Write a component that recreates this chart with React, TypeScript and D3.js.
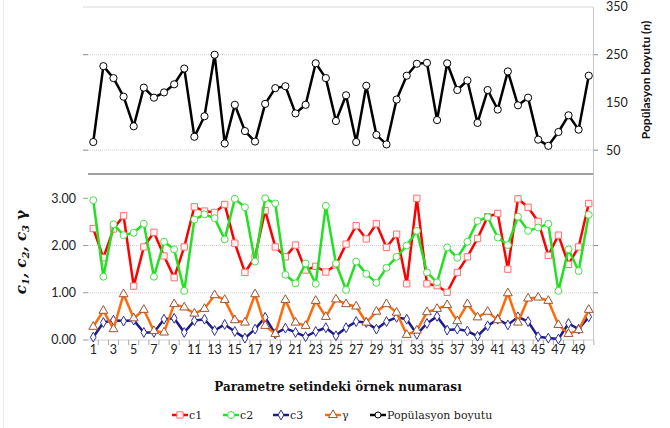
import React, { useEffect, useRef } from 'react';
import * as d3 from 'd3';

const samples = [1,2,3,4,5,6,7,8,9,10,11,12,13,14,15,16,17,18,19,20,21,22,23,24,25,26,27,28,29,30,31,32,33,34,35,36,37,38,39,40,41,42,43,44,45,46,47,48,49,50];

const popSize = [67,226,201,162,100,181,160,171,188,221, 78,121,250,64,145,90,68,147,180,184, 127,145,232,201,111,165,67,185,82,62, 156,206,231,233,113,232,176,196,107,176, 135,215,144,160,72,59,88,123,93,206];

const c1 = [2.36,1.74,2.35,2.63,1.14,1.97,2.28,1.78,1.32,1.97, 2.82,2.73,2.70,2.87,2.05,1.43,1.76,2.74,1.97,1.76, 2.01,1.48,1.56,1.44,1.59,2.03,2.42,2.14,2.46,1.96, 2.24,1.19,3.00,1.19,1.15,1.01,1.43,1.76,2.15,2.61, 2.68,1.50,2.99,2.81,2.51,1.79,2.22,1.60,1.97,2.89];
const c2 = [2.96,1.34,2.45,2.22,2.27,2.46,1.34,2.08,1.92,1.04, 2.55,2.66,2.58,2.13,2.99,2.81,1.66,3.00,2.89,1.38, 1.20,1.62,1.19,2.84,1.62,1.06,1.66,1.40,1.21,1.53, 1.76,2.00,2.31,1.43,1.22,1.96,1.74,2.08,2.52,2.60, 2.17,2.01,2.61,2.31,2.38,2.46,1.04,1.92,1.46,2.65];
const c3 = [0.06,0.37,0.42,0.40,0.42,0.16,0.16,0.44,0.46,0.16, 0.41,0.44,0.20,0.33,0.18,0.04,0.23,0.48,0.13,0.25, 0.16,0.07,0.18,0.26,0.09,0.26,0.39,0.37,0.23,0.39, 0.48,0.44,0.12,0.35,0.50,0.21,0.23,0.19,0.08,0.30, 0.44,0.32,0.49,0.39,0.07,0.04,0.02,0.35,0.23,0.49];
const gamma = [0.28,0.62,0.23,0.97,0.46,0.64,0.19,0.16,0.76,0.69, 0.56,0.66,0.95,0.85,0.42,0.37,0.97,0.30,0.13,0.85, 0.37,0.30,0.83,0.49,0.86,0.76,0.71,0.37,0.60,0.76, 0.58,0.11,0.20,0.59,0.66,0.74,0.40,0.76,0.48,0.60, 0.42,0.99,0.37,0.88,0.90,0.83,0.32,0.13,0.21,0.64];

const leftTicks = [0, 1, 2, 3];
const rightTicks = [50, 150, 250, 350];
const leftGrid = [1, 2];
const rightGrid = [250, 50];

type Series = { name: string; values: number[]; line: string; stroke: string; fill: string; symbol: d3.SymbolType; size: number };

const series: Series[] = [
  { name: 'c1', values: c1, line: '#ff0000', stroke: '#ff7070', fill: '#fff4f4', symbol: d3.symbolSquare, size: 40 },
  { name: 'c2', values: c2, line: '#22e022', stroke: '#44e044', fill: '#ffffff', symbol: d3.symbolCircle, size: 38 },
  { name: 'c3', values: c3, line: '#1c1c8a', stroke: '#3030a0', fill: '#ffffff', symbol: d3.symbolDiamond, size: 28 },
  { name: 'γ', values: gamma, line: '#ff6a0a', stroke: '#a0522d', fill: '#ffffff', symbol: d3.symbolTriangle, size: 34 },
];

export default function App() {
  const svgRef = useRef<SVGSVGElement>(null);

  useEffect(() => {
    const svg = d3.select(svgRef.current);
    svg.selectAll('*').remove();

    const x = d3.scaleBand<number>().domain(samples).range([88.2, 593.8]);
    const cx = (d: number) => (x(d) as number) + x.bandwidth() / 2;
    const yB = d3.scaleLinear().domain([0, 3]).range([340, 198.3]);
    const yT = d3.scaleLinear().domain([0, 350]).range([174, 7]);

    // faint outer border
    svg.append('line').attr('x1', 3.5).attr('x2', 3.5).attr('y1', 0).attr('y2', 428).attr('stroke', '#ececec');

    // top panel grid
    svg.append('line').attr('x1', 83).attr('x2', 593).attr('y1', yT(350)).attr('y2', yT(350)).attr('stroke', '#d9d9d9');
    rightGrid.forEach(v => {
      svg.append('line').attr('x1', 88).attr('x2', 593).attr('y1', yT(v)).attr('y2', yT(v))
        .attr('stroke', '#cfcfcf').attr('stroke-dasharray', '1,1');
      svg.append('line').attr('x1', 83).attr('x2', 88).attr('y1', yT(v)).attr('y2', yT(v)).attr('stroke', '#888');
      svg.append('line').attr('x1', 593).attr('x2', 598).attr('y1', yT(v)).attr('y2', yT(v)).attr('stroke', '#888');
    });
    // separator / top baseline
    svg.append('line').attr('x1', 88).attr('x2', 593).attr('y1', yT(0)).attr('y2', yT(0)).attr('stroke', '#808080').attr('stroke-width', 1.5);

    // bottom panel grid
    leftGrid.forEach(v => {
      svg.append('line').attr('x1', 88).attr('x2', 593).attr('y1', yB(v)).attr('y2', yB(v))
        .attr('stroke', '#cfcfcf').attr('stroke-dasharray', '1,1');
      svg.append('line').attr('x1', 593).attr('x2', 598).attr('y1', yB(v)).attr('y2', yB(v)).attr('stroke', '#888');
    });
    leftTicks.forEach(v => {
      svg.append('line').attr('x1', 83).attr('x2', 88).attr('y1', yB(v)).attr('y2', yB(v)).attr('stroke', '#999');
    });
    svg.append('line').attr('x1', 83).attr('x2', 593.8).attr('y1', yB(0)).attr('y2', yB(0)).attr('stroke', '#d0d0d0');
    samples.forEach(d => {
      const bx = (x(d) as number) + x.bandwidth();
      svg.append('line').attr('x1', bx).attr('x2', bx).attr('y1', 340).attr('y2', 345).attr('stroke', '#aaa');
    });

    // right vertical axis
    svg.append('line').attr('x1', 593.5).attr('x2', 593.5).attr('y1', 7).attr('y2', 345).attr('stroke', '#c8c8c8');

    // tick labels
    svg.selectAll('.ytl').data(leftTicks).join('text').attr('class', 'ytl')
      .attr('x', 76).attr('y', d => yB(d)).attr('dy', '0.35em').attr('text-anchor', 'end')
      .attr('font-family', 'Lato').attr('font-size', 12.5).attr('fill', '#222').text(d => d.toFixed(2));
    svg.selectAll('.ytr').data(rightTicks).join('text').attr('class', 'ytr')
      .attr('x', 606).attr('y', d => yT(d)).attr('dy', '0.35em')
      .attr('font-family', 'Lato').attr('font-size', 12.5).attr('fill', '#222').text(d => d);
    svg.selectAll('.xtl').data(samples.filter(d => d % 2 === 1)).join('text').attr('class', 'xtl')
      .attr('x', d => cx(d)).attr('y', 354).attr('text-anchor', 'middle')
      .attr('font-family', 'Lato').attr('font-size', 12.5).attr('fill', '#222').text(d => d);

    // bottom series
    series.forEach(s => {
      const ln = d3.line<number>().x((_, i) => cx(samples[i])).y(v => yB(v));
      svg.append('path').attr('d', ln(s.values)).attr('fill', 'none').attr('stroke', s.line).attr('stroke-width', 2.5).attr('stroke-linejoin', 'round');
      svg.append('g').selectAll('path').data(s.values).join('path')
        .attr('transform', (v, i) => `translate(${cx(samples[i])},${yB(v)})`)
        .attr('d', d3.symbol().type(s.symbol).size(s.size)())
        .attr('fill', s.fill).attr('stroke', s.stroke).attr('stroke-width', 1);
    });

    // top series
    const lnT = d3.line<number>().x((_, i) => cx(samples[i])).y(v => yT(v));
    svg.append('path').attr('d', lnT(popSize)).attr('fill', 'none').attr('stroke', '#000').attr('stroke-width', 2.5).attr('stroke-linejoin', 'round');
    svg.append('g').selectAll('circle').data(popSize).join('circle')
      .attr('cx', (v, i) => cx(samples[i])).attr('cy', v => yT(v)).attr('r', 3.6)
      .attr('fill', '#fff').attr('stroke', '#000').attr('stroke-width', 1);

    // axis titles
    const lt = svg.append('text').attr('transform', 'translate(26,252) rotate(-90)').attr('text-anchor', 'middle')
      .attr('font-family', 'DejaVu Serif').attr('font-weight', 'bold').attr('font-style', 'italic').attr('font-size', 15).attr('fill', '#111');
    [['c', '1', ', '], ['c', '2', ', '], ['c', '3', ' ']].forEach(([a, b, c]) => {
      lt.append('tspan').text(a);
      lt.append('tspan').attr('font-size', 10).attr('dy', 3).text(b);
      lt.append('tspan').attr('dy', -3).text(c);
    });
    lt.append('tspan').attr('font-style', 'normal').text('γ');

    const rt = svg.append('text').attr('transform', 'translate(650,80) rotate(-90)').attr('text-anchor', 'middle')
      .attr('font-family', 'Lato').attr('font-weight', 'bold').attr('font-size', 12).attr('fill', '#111');
    rt.append('tspan').text('Popülasyon boyutu (');
    rt.append('tspan').attr('font-style', 'italic').text('n');
    rt.append('tspan').text(')');

    svg.append('text').attr('x', 338).attr('y', 391).attr('text-anchor', 'middle')
      .attr('font-family', 'DejaVu Serif').attr('font-weight', 'bold').attr('font-size', 12).attr('fill', '#111')
      .text('Parametre setindeki örnek numarası');

    // legend
    const legendX = [172, 223, 273, 325, 370];
    const legendItems = [
      ...series.map(s => ({ name: s.name, line: s.line, stroke: s.stroke, fill: s.fill, symbol: s.symbol, size: s.size })),
      { name: 'Popülasyon boyutu', line: '#000', stroke: '#000', fill: '#fff', symbol: d3.symbolCircle, size: 28 },
    ];
    legendItems.forEach((it, i) => {
      const g = svg.append('g').attr('transform', `translate(${legendX[i]},415)`);
      g.append('line').attr('x1', 0).attr('x2', 16).attr('stroke', it.line).attr('stroke-width', 2.5);
      g.append('path').attr('transform', 'translate(8,0)').attr('d', d3.symbol().type(it.symbol).size(it.size)())
        .attr('fill', it.fill).attr('stroke', it.stroke);
      g.append('text').attr('x', 17).attr('dy', '0.35em').attr('font-family', 'DejaVu Serif').attr('font-size', 11)
        .attr('fill', '#222').text(it.name);
    });
  }, []);

  return (
    <svg ref={svgRef} width={670} height={428} style={{ position: 'absolute', left: 0, top: 0, background: '#fff' }} />
  );
}
